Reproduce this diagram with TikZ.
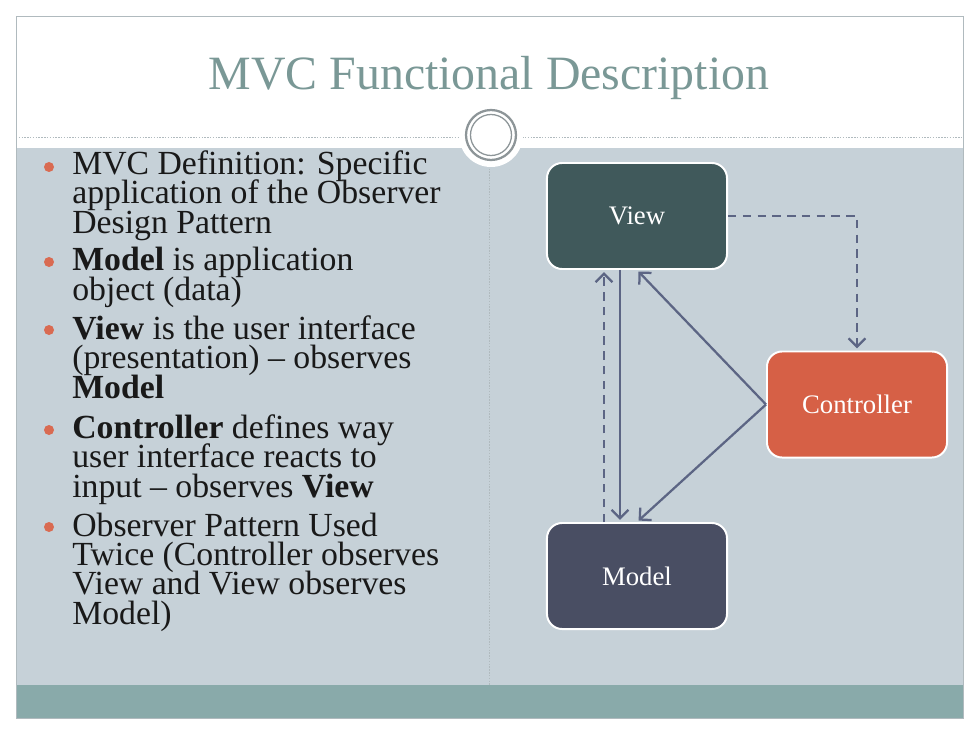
\documentclass[tikz,border=0pt]{standalone}
\usepackage{fontspec}
\setmainfont{Liberation Serif}
\usepackage{tikz}
\usetikzlibrary{arrows.meta, positioning, calc}
\definecolor{slidebg}{RGB}{198,209,216}
\definecolor{footteal}{RGB}{137,170,170}
\definecolor{titlegray}{RGB}{122,152,150}
\definecolor{viewgreen}{RGB}{64,89,91}
\definecolor{ctrlorange}{RGB}{214,96,70}
\definecolor{modelslate}{RGB}{73,78,99}
\definecolor{arrowblue}{RGB}{92,101,132}
\definecolor{dotorange}{RGB}{217,107,82}
\definecolor{framegray}{RGB}{176,186,190}
\newcommand{\bulletfont}{\fontsize{24}{20.8}\selectfont\lineskiplimit=-20pt\relax}

\begin{document}
\begin{tikzpicture}[x=0.025cm, y=-0.025cm,
  mvcbox/.style={draw=white, line width=1.4pt, rounded corners=0.38cm, minimum width=4.5cm, minimum height=2.65cm, align=center, text=white, font=\fontsize{19}{22}\selectfont},
  bullettext/.style={anchor=base west, align=left, inner sep=0pt, text=black!90, font=\bulletfont},
  solidarrow/.style={draw=arrowblue, line width=1.6pt, -{Straight Barb[length=6pt, width=12pt]}, shorten >=1.5pt},
  dasharrow/.style={solidarrow, dash pattern=on 6pt off 4.5pt}]
  \useasboundingbox (0,0) rectangle (980,735);
  % Slide
  \fill[white] (0,0) rectangle (980,735);
  \fill[slidebg] (16,148) rectangle (963,685);
  \fill[footteal] (16,685) rectangle (963,718);
  \draw[framegray, line width=0.6pt] (16,16) rectangle (963,718);
  \draw[framegray, line width=0.6pt, dash pattern=on 1pt off 1pt] (16,137) -- (963,137);
  \draw[framegray, line width=0.6pt, dash pattern=on 1pt off 1pt] (489,149) -- (489,685);
  % Title and ring
  \node[anchor=base, text=titlegray, font=\fontsize{34}{40}\selectfont] (title) at (489,90) {MVC Functional Description};
  \fill[white] (491,135) circle (32);
  \draw[framegray!80!black, line width=1.6pt] (491,135) circle (25);
  \draw[framegray!80!black, line width=0.9pt] (491,135) circle (20.5);
  % Bullets (placed at the baseline of their last line)
  \foreach \y in {167,262,330,430,527}
    \fill[dotorange] (49,\y) circle (5);
  \node[bullettext] (b1) at (72,233) {MVC Definition: Specific\\application of the Observer\\Design Pattern};
  \node[bullettext] (b2) at (72,300) {\textbf{Model} is application\\object (data)};
  \node[bullettext] (b3) at (72,398) {\textbf{View} is the user interface\\(presentation) -- observes\\\textbf{Model}};
  \node[bullettext] (b4) at (72,497) {\textbf{Controller} defines way\\user interface reacts to\\input -- observes \textbf{View}};
  \node[bullettext] (b5) at (72,624) {Observer Pattern Used\\Twice (Controller observes\\View and View observes\\Model)};
  % MVC diagram
  \node[mvcbox, fill=viewgreen] (view) at (637,216) {View};
  \node[mvcbox, fill=ctrlorange] (ctrl) at (857,404.5) {Controller};
  \node[mvcbox, fill=modelslate] (model) at (637,576) {Model};
  \draw[dasharrow] (view.east) -| (ctrl.north);
  \draw[dasharrow] ([xshift=-0.825cm]model.north) -- ([xshift=-0.825cm]view.south);
  \draw[solidarrow] ([xshift=-0.425cm]view.south) -- ([xshift=-0.425cm]model.north);
  \draw[solidarrow] (ctrl.west) -- (view.south);
  \draw[solidarrow] (ctrl.west) -- (model.north);
\end{tikzpicture}
\end{document}
